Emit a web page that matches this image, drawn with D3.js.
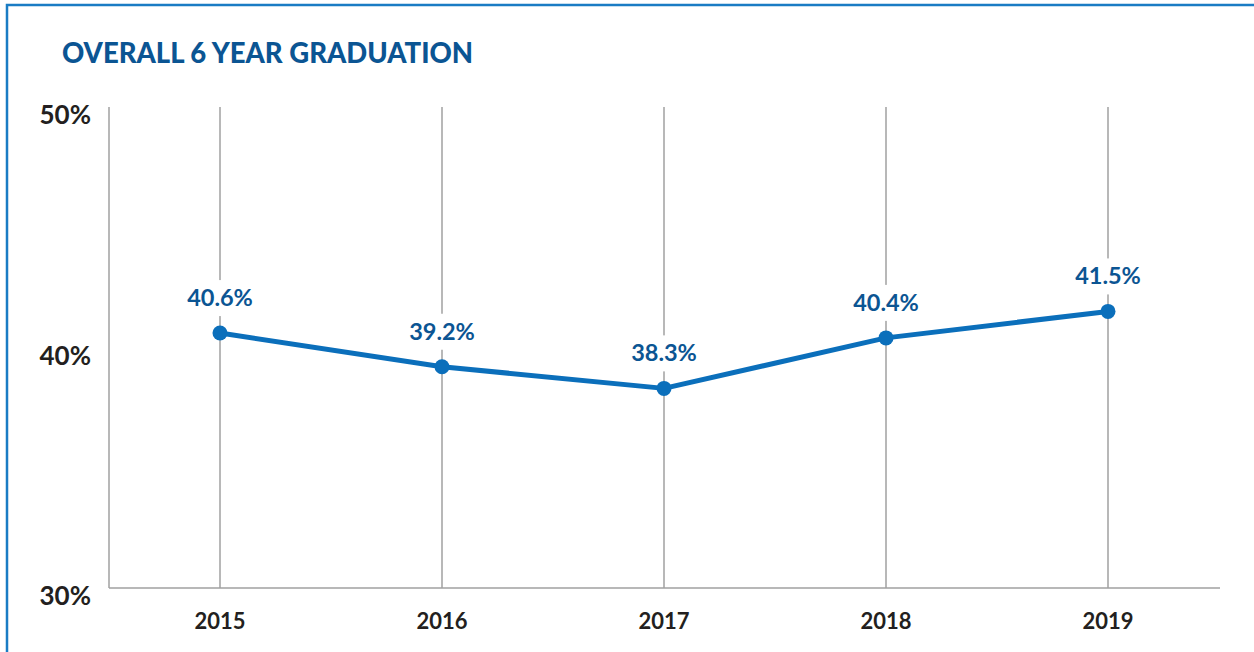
<!DOCTYPE html>
<html>
<head>
<meta charset="utf-8">
<script src="https://cdn.jsdelivr.net/npm/d3@7"></script>
<style>
  body { margin: 0; background: #fff; }
  svg { display: block; font-family: Lato, "Open Sans", sans-serif; }
</style>
</head>
<body>
<script>
// chart data
const years = ["2015", "2016", "2017", "2018", "2019"]
const rates = [40.6, 39.2, 38.3, 40.4, 41.5]
const yTicks = [30, 40, 50]

const w = 1254
const h = 652

const svg = d3.select("body")
  .append("svg")
  .attr("width", w)
  .attr("height", h)

// blue frame
svg.append("path")
  .attr("d", "M7,652 V5 H1254")
  .attr("fill", "none")
  .attr("stroke", "#1a7cc4")
  .attr("stroke-width", 2.5)

svg.append("text")
  .attr("x", 62)
  .attr("y", 63)
  .attr("font-size", "27.5px")
  .attr("font-weight", "900")
  .attr("fill", "#0b5593")
  .text("OVERALL 6 YEAR GRADUATION")

const xScale = d3.scaleBand()
  .domain(years)
  .range([109, 1219])

const yScale = d3.scaleLinear()
  .domain([30, 50])
  .range([588, 107])

const cx = d => xScale(d) + xScale.bandwidth() / 2

// left axis line and baseline
svg.append("line")
  .attr("x1", 109).attr("x2", 109)
  .attr("y1", yScale(50)).attr("y2", yScale(30))
  .attr("stroke", "#a0a0a0").attr("stroke-width", 1.5)

svg.append("line")
  .attr("x1", 109).attr("x2", 1220)
  .attr("y1", yScale(30)).attr("y2", yScale(30))
  .attr("stroke", "#a0a0a0").attr("stroke-width", 1.5)

// vertical gridlines at each year
svg.selectAll(".grid")
  .data(years)
  .enter()
  .append("line")
  .attr("class", "grid")
  .attr("x1", cx).attr("x2", cx)
  .attr("y1", yScale(50)).attr("y2", yScale(30))
  .attr("stroke", "#a0a0a0").attr("stroke-width", 1.5)

// y labels
svg.selectAll(".ylab")
  .data(yTicks)
  .enter()
  .append("text")
  .attr("class", "ylab")
  .attr("x", 91)
  .attr("y", d => yScale(d) + 17)
  .attr("text-anchor", "end")
  .attr("font-size", "26px")
  .attr("font-weight", "bold")
  .attr("fill", "#231f20")
  .text(d => d + "%")

// x labels
svg.selectAll(".xlab")
  .data(years)
  .enter()
  .append("text")
  .attr("class", "xlab")
  .attr("x", cx)
  .attr("y", 629)
  .attr("text-anchor", "middle")
  .attr("font-size", "22px")
  .attr("font-weight", "bold")
  .attr("fill", "#231f20")
  .text(d => d)

const line = d3.line()
  .x((d, i) => cx(years[i]))
  .y(d => yScale(d))

svg.append("path")
  .datum(rates)
  .attr("d", line)
  .attr("fill", "none")
  .attr("stroke", "#0b6fbb")
  .attr("stroke-width", 5)
  .attr("stroke-linejoin", "round")

svg.selectAll(".dot")
  .data(rates)
  .enter()
  .append("circle")
  .attr("class", "dot")
  .attr("cx", (d, i) => cx(years[i]))
  .attr("cy", d => yScale(d))
  .attr("r", 7.5)
  .attr("fill", "#0b6fbb")

// value labels with white backing to break the gridline
const labels = svg.selectAll(".val")
  .data(rates)
  .enter()
  .append("g")
  .attr("class", "val")
  .attr("transform", (d, i) => `translate(${cx(years[i])},${yScale(d) - 35})`)

labels.append("rect")
  .attr("x", -42).attr("y", -18)
  .attr("width", 84).attr("height", 36)
  .attr("fill", "#fff")

labels.append("text")
  .attr("y", 8)
  .attr("text-anchor", "middle")
  .attr("font-size", "23.5px")
  .attr("font-weight", "bold")
  .attr("fill", "#0b5593")
  .text(d => d.toFixed(1) + "%")
</script>
</body>
</html>
